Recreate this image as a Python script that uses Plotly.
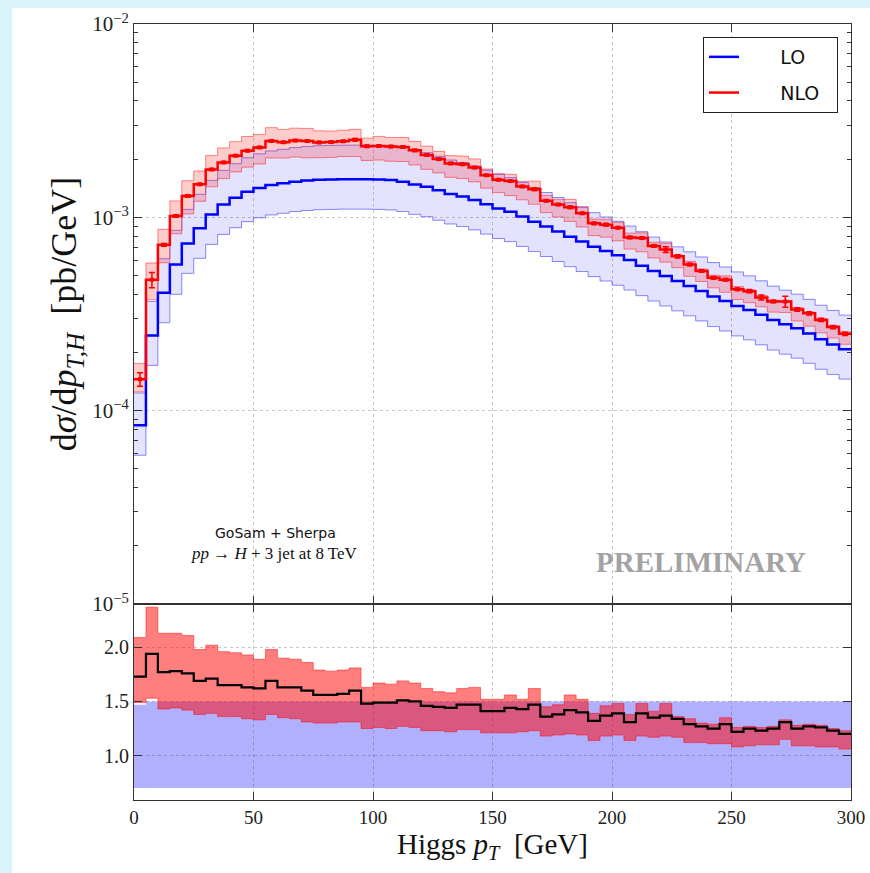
import plotly.graph_objects as go

# ---------------- data ----------------
bin_edges = [0, 5, 10, 15, 20, 25, 30, 35, 40, 45, 50, 55, 60, 65, 70, 75, 80, 85, 90, 95,
             100, 105, 110, 115, 120, 125, 130, 135, 140, 145, 150, 155, 160, 165, 170, 175,
             180, 185, 190, 195, 200, 205, 210, 215, 220, 225, 230, 235, 240, 245, 250, 255,
             260, 265, 270, 275, 280, 285, 290, 295, 300]

# LO central value dsigma/dpT [pb/GeV]
lo_xs = [8.4e-5, 2.45e-4, 4.07e-4, 5.71e-4, 7.33e-4, 8.77e-4, 1.035e-3, 1.166e-3, 1.263e-3, 1.357e-3,
         1.42e-3, 1.47e-3, 1.50e-3, 1.53e-3, 1.55e-3, 1.565e-3, 1.57e-3, 1.575e-3, 1.575e-3, 1.575e-3,
         1.57e-3, 1.56e-3, 1.53e-3, 1.48e-3, 1.44e-3, 1.38e-3, 1.32e-3, 1.28e-3, 1.23e-3, 1.17e-3,
         1.11e-3, 1.07e-3, 1.01e-3, 9.5e-4, 8.96e-4, 8.44e-4, 7.94e-4, 7.49e-4, 7.05e-4, 6.69e-4,
         6.36e-4, 6.01e-4, 5.62e-4, 5.27e-4, 4.97e-4, 4.69e-4, 4.42e-4, 4.16e-4, 3.89e-4, 3.69e-4,
         3.48e-4, 3.32e-4, 3.13e-4, 2.94e-4, 2.80e-4, 2.67e-4, 2.51e-4, 2.34e-4, 2.20e-4, 2.08e-4]

# LO scale band relative to LO central (lower panel, blue)
lo_band_down = [0.70, 0.70, 0.70, 0.70, 0.70, 0.70, 0.70, 0.70, 0.70, 0.70,
                0.70, 0.70, 0.70, 0.70, 0.70, 0.70, 0.70, 0.70, 0.70, 0.70,
                0.70, 0.70, 0.70, 0.70, 0.70, 0.70, 0.70, 0.70, 0.70, 0.70,
                0.70, 0.70, 0.70, 0.70, 0.70, 0.70, 0.70, 0.70, 0.70, 0.70,
                0.70, 0.70, 0.70, 0.70, 0.70, 0.70, 0.70, 0.70, 0.70, 0.70,
                0.70, 0.70, 0.70, 0.70, 0.70, 0.70, 0.70, 0.70, 0.70, 0.70]
lo_band_up = [1.47, 1.50, 1.50, 1.50, 1.50, 1.50, 1.50, 1.50, 1.50, 1.50,
              1.50, 1.50, 1.50, 1.50, 1.50, 1.50, 1.50, 1.50, 1.50, 1.50,
              1.50, 1.50, 1.50, 1.50, 1.50, 1.50, 1.50, 1.50, 1.50, 1.50,
              1.50, 1.50, 1.50, 1.50, 1.50, 1.50, 1.50, 1.50, 1.50, 1.50,
              1.50, 1.50, 1.50, 1.50, 1.50, 1.50, 1.50, 1.50, 1.50, 1.50,
              1.50, 1.50, 1.50, 1.50, 1.50, 1.50, 1.50, 1.50, 1.50, 1.50]

# NLO / LO ratio (black line) and NLO scale band relative to LO central (red)
ratio_nlo = [1.73, 1.94, 1.77, 1.78, 1.76, 1.69, 1.71, 1.65, 1.65, 1.63,
             1.62, 1.69, 1.63, 1.63, 1.60, 1.56, 1.56, 1.57, 1.60, 1.48,
             1.49, 1.49, 1.51, 1.50, 1.46, 1.45, 1.44, 1.47, 1.47, 1.41,
             1.41, 1.44, 1.43, 1.47, 1.36, 1.38, 1.42, 1.40, 1.32, 1.37,
             1.39, 1.31, 1.39, 1.35, 1.37, 1.34, 1.29, 1.27, 1.25, 1.29,
             1.22, 1.25, 1.23, 1.25, 1.31, 1.25, 1.27, 1.26, 1.23, 1.20]
ratio_nlo_up = [2.09, 2.37, 2.13, 2.13, 2.11, 1.98, 2.02, 1.96, 1.95, 1.93,
                1.89, 1.98, 1.90, 1.89, 1.86, 1.79, 1.78, 1.79, 1.81, 1.63,
                1.67, 1.66, 1.69, 1.67, 1.62, 1.59, 1.58, 1.62, 1.63, 1.52,
                1.52, 1.56, 1.52, 1.62, 1.45, 1.47, 1.56, 1.52, 1.39, 1.46,
                1.48, 1.38, 1.48, 1.41, 1.48, 1.36, 1.34, 1.30, 1.29, 1.35,
                1.26, 1.27, 1.26, 1.27, 1.33, 1.28, 1.29, 1.28, 1.25, 1.23]
ratio_nlo_down = [1.49, 1.53, 1.43, 1.44, 1.42, 1.38, 1.39, 1.36, 1.36, 1.34,
                  1.33, 1.38, 1.35, 1.34, 1.31, 1.30, 1.30, 1.31, 1.31, 1.25,
                  1.26, 1.25, 1.27, 1.26, 1.23, 1.23, 1.22, 1.24, 1.24, 1.21,
                  1.21, 1.21, 1.22, 1.23, 1.18, 1.19, 1.20, 1.19, 1.14, 1.18,
                  1.19, 1.14, 1.18, 1.17, 1.18, 1.17, 1.12, 1.12, 1.11, 1.11,
                  1.08, 1.09, 1.10, 1.10, 1.15, 1.09, 1.09, 1.08, 1.08, 1.06]

# relative statistical error of the NLO prediction
nlo_stat_rel = [0.08, 0.09, 0.015, 0.015, 0.015, 0.012, 0.012, 0.012, 0.012, 0.012,
                0.012, 0.012, 0.012, 0.012, 0.012, 0.012, 0.012, 0.012, 0.015, 0.012,
                0.012, 0.012, 0.012, 0.012, 0.012, 0.012, 0.012, 0.012, 0.012, 0.012,
                0.012, 0.012, 0.012, 0.015, 0.012, 0.012, 0.015, 0.012, 0.012, 0.015,
                0.012, 0.015, 0.012, 0.015, 0.035, 0.02, 0.015, 0.015, 0.015, 0.015,
                0.015, 0.02, 0.03, 0.015, 0.065, 0.02, 0.02, 0.02, 0.02, 0.02]

x_ticks = [0, 50, 100, 150, 200, 250, 300]
y_ticks = [1e-5, 1e-4, 1e-3, 1e-2]
y_ticktext = ["10<sup>−5</sup>", "10<sup>−4</sup>", "10<sup>−3</sup>", "10<sup>−2</sup>"]
r_ticks = [1.0, 1.5, 2.0]
r_ticktext = ["1.0", "1.5", "2.0"]

# ---------------- derived quantities ----------------
n = len(lo_xs)
lo_dn = [lo_xs[i] * lo_band_down[i] for i in range(n)]
lo_up = [lo_xs[i] * lo_band_up[i] for i in range(n)]
nlo = [lo_xs[i] * ratio_nlo[i] for i in range(n)]
nlo_dn = [lo_xs[i] * ratio_nlo_down[i] for i in range(n)]
nlo_up = [lo_xs[i] * ratio_nlo_up[i] for i in range(n)]
centers = [(bin_edges[i] + bin_edges[i + 1]) / 2 for i in range(n)]
nlo_err = [nlo[i] * nlo_stat_rel[i] for i in range(n)]


def st(v):
    return list(v) + [v[-1]]


BLUE = "#0000ff"
RED = "#ff0000"
NB = "\u00a0"
fig = go.Figure()

# main panel: LO band
fig.add_trace(go.Scatter(x=bin_edges, y=st(lo_dn), mode="lines", line=dict(shape="hv", color="rgba(0,0,255,0.45)", width=1),
                         xaxis="x", yaxis="y", showlegend=False, hoverinfo="skip"))
fig.add_trace(go.Scatter(x=bin_edges, y=st(lo_up), mode="lines", line=dict(shape="hv", color="rgba(0,0,255,0.45)", width=1),
                         fill="tonexty", fillcolor="rgba(0,0,255,0.11)", xaxis="x", yaxis="y", showlegend=False, hoverinfo="skip"))
# NLO band
fig.add_trace(go.Scatter(x=bin_edges, y=st(nlo_dn), mode="lines", line=dict(shape="hv", color="rgba(255,0,0,0.45)", width=1),
                         xaxis="x", yaxis="y", showlegend=False, hoverinfo="skip"))
fig.add_trace(go.Scatter(x=bin_edges, y=st(nlo_up), mode="lines", line=dict(shape="hv", color="rgba(255,0,0,0.45)", width=1),
                         fill="tonexty", fillcolor="rgba(255,0,0,0.2)", xaxis="x", yaxis="y", showlegend=False, hoverinfo="skip"))
# central lines
fig.add_trace(go.Scatter(x=bin_edges, y=st(lo_xs), mode="lines", name=NB * 6 + "LO", legendgroup="lo",
                         line=dict(shape="hv", color=BLUE, width=2.5), xaxis="x", yaxis="y"))
fig.add_trace(go.Scatter(x=bin_edges, y=st(nlo), mode="lines", name=NB * 6 + "NLO" + NB * 2, legendgroup="nlo",
                         line=dict(shape="hv", color=RED, width=2.5), xaxis="x", yaxis="y"))
fig.add_trace(go.Scatter(x=centers, y=nlo, mode="markers", marker=dict(symbol="square", size=4, color=RED),
                         error_y=dict(type="data", array=nlo_err, visible=True, color=RED, thickness=1.5, width=3),
                         xaxis="x", yaxis="y", showlegend=False, hoverinfo="skip"))

# ratio panel
fig.add_trace(go.Scatter(x=bin_edges, y=st(lo_band_down), mode="lines", line=dict(shape="hv", width=0, color="rgba(0,0,0,0)"),
                         xaxis="x2", yaxis="y2", showlegend=False, hoverinfo="skip"))
fig.add_trace(go.Scatter(x=bin_edges, y=st(lo_band_up), mode="lines", line=dict(shape="hv", width=0, color="rgba(0,0,0,0)"),
                         fill="tonexty", fillcolor="rgba(0,0,255,0.31)", xaxis="x2", yaxis="y2", showlegend=False, hoverinfo="skip"))
fig.add_trace(go.Scatter(x=bin_edges, y=st(ratio_nlo_down), mode="lines", line=dict(shape="hv", width=0.8, color="rgba(255,0,0,0.6)"),
                         xaxis="x2", yaxis="y2", showlegend=False, hoverinfo="skip"))
fig.add_trace(go.Scatter(x=bin_edges, y=st(ratio_nlo_up), mode="lines", line=dict(shape="hv", width=0.8, color="rgba(255,0,0,0.6)"),
                         fill="tonexty", fillcolor="rgba(255,0,0,0.5)", xaxis="x2", yaxis="y2", showlegend=False, hoverinfo="skip"))
fig.add_trace(go.Scatter(x=bin_edges, y=st(ratio_nlo), mode="lines", line=dict(shape="hv", width=2.2, color="black"),
                         xaxis="x2", yaxis="y2", showlegend=False, hoverinfo="skip"))

SERIF = "Liberation Serif, DejaVu Serif, serif"
AX = dict(showline=True, linecolor="#333", linewidth=1, mirror="ticks", ticks="inside", ticklen=8,
          tickwidth=1, tickcolor="#333", showgrid=True, gridcolor="#c8c8c8", griddash="dot", gridwidth=1,
          zeroline=False, automargin=False, tickfont=dict(family=SERIF, size=19, color="#222"))

PL, PR, PT, PB = 134, 19, 24, 73
W, H = 870, 873
pw = W - PL - PR
ph = H - PT - PB
BOT = H - PB
split = (BOT - 604) / ph


def px(x):
    return (x - PL) / pw


def py(y):
    return (BOT - y) / ph


fig.update_layout(
    width=W, height=H, autosize=False,
    margin=dict(l=PL, r=PR, t=PT, b=PB, pad=0),
    paper_bgcolor="#d8f4f8", plot_bgcolor="white",
    xaxis=dict(AX, domain=[0, 1], anchor="y", range=[0, 300], tickvals=x_ticks, showticklabels=False),
    yaxis=dict(AX, domain=[split, 1], anchor="x", type="log", range=[-5, -2], tickvals=y_ticks, ticktext=y_ticktext,
               tickfont=dict(family=SERIF, size=21, color="#222"),
               minor=dict(tickvals=[m * 10 ** e for e in (-5, -4, -3) for m in range(2, 10)], ticks="inside",
                          ticklen=4, tickcolor="#333", showgrid=False),
               title=dict(text="d<i>σ</i>/d<i>p</i><sub><i>T,H</i></sub>  [pb/GeV]",
                          font=dict(family=SERIF, size=36, color="#111"), standoff=4)),
    xaxis2=dict(AX, domain=[0, 1], anchor="y2", range=[0, 300], tickvals=x_ticks, matches="x",
                title=dict(text="Higgs <i>p</i><sub><i>T</i></sub>  [GeV]", font=dict(family=SERIF, size=29, color="#111"),
                           standoff=6)),
    yaxis2=dict(AX, domain=[0, split], anchor="x2", range=[0.59, 2.40], tickvals=r_ticks, ticktext=r_ticktext,
                tickfont=dict(family=SERIF, size=20, color="#222")),
    legend=dict(x=px(703), y=py(37), xanchor="left", yanchor="top",
                bgcolor="white", bordercolor="#222", borderwidth=1,
                font=dict(family="DejaVu Sans, sans-serif", size=19, color="#111"),
                tracegroupgap=8),
    showlegend=True,
    shapes=[dict(type="rect", xref="paper", yref="paper", x0=px(12), x1=1.1,
                 y0=-0.2, y1=py(8), fillcolor="white", line=dict(width=0), layer="below")],
    annotations=[
        dict(text="GoSam + Sherpa", xref="paper", yref="paper", x=px(275), y=py(533), xanchor="center", yanchor="middle",
             showarrow=False, font=dict(family="DejaVu Sans, sans-serif", size=14, color="#111")),
        dict(text="<i>pp</i> → <i>H</i> + 3 jet at 8 TeV", xref="paper", yref="paper", x=px(274),
             y=py(553), xanchor="center", yanchor="middle", showarrow=False, font=dict(family=SERIF, size=17, color="#111")),
        dict(text="<b>PRELIMINARY</b>", xref="paper", yref="paper", x=px(701), y=py(562), xanchor="center", yanchor="middle",
             showarrow=False, font=dict(family=SERIF, size=29, color="#a3a3a3")),
    ],
)

fig.write_html("out.html")
